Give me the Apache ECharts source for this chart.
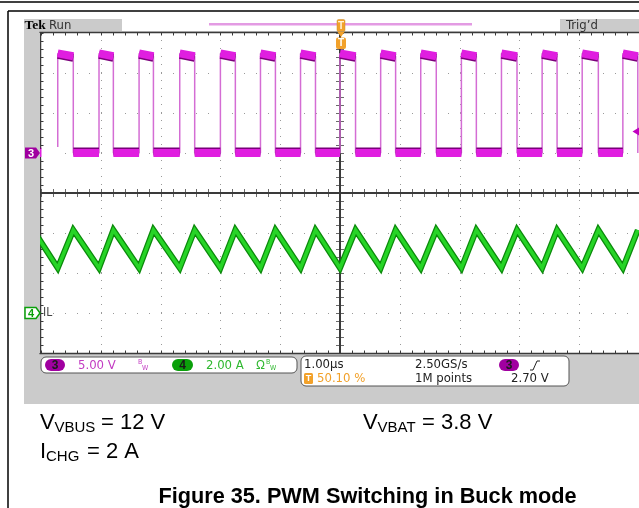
<!DOCTYPE html>
<html>
<head>
<meta charset="utf-8">
<script src="https://cdn.jsdelivr.net/npm/echarts@6/dist/echarts.min.js"></script>
<style>
  html, body { margin: 0; padding: 0; background: #ffffff; }
  #c { width: 639px; height: 508px; }
</style>
</head>
<body>
<div id="c"></div>
<script>
// ---- Captured waveforms (time in microseconds, trigger at 0) ----
// CH3 "SW" switching node: rising and falling edge times.
// swFallUs[i] precedes swRiseUs[i]; swFallUs[i + 1] follows it.
const swRiseUs = [-4.72, -4.03, -3.36, -2.68, -2.00, -1.33, -0.66, 0.00, 0.68, 1.35, 2.03, 2.70, 3.38, 4.05, 4.73];
const swFallUs = [-5.13, -4.46, -3.79, -3.12, -2.43, -1.75, -1.08, -0.41, 0.26, 0.93, 1.61, 2.28, 2.96, 3.63, 4.32, 4.98];
// SW plateau levels in volts (high level droops slightly during on-time)
const swHighStartV = [12.45];
const swHighEndV = [12.1];
const swLowV = [0.0];

// CH4 "IL" inductor current: valley at each SW rise, peak at each SW fall (amps)
const ilValleyA = [2.25, 2.25, 2.25, 2.25, 2.25, 2.25, 2.25, 2.25, 2.25, 2.25, 2.25, 2.25, 2.25, 2.25, 2.25];
const ilPeakA = [4.15, 4.15, 4.15, 4.15, 4.15, 4.15, 4.15, 4.15, 4.15, 4.15, 4.15, 4.15, 4.15, 4.15, 4.15, 4.15];

// Scope settings
const timeRangeUs = [-5, 5];        // 1.00 µs/div, 10 divisions
const ch3RangeV = [-25, 15];        // 5.00 V/div, ground 4 div below top
const ch4RangeA = [-2, 14];         // 2.00 A/div, zero 1 div above bottom
const trigLevelV = [2.70];

// Status readouts
const ch3Scale = '5.00 V';
const ch4Scale = '2.00 A';
const timeScale = '1.00\u00b5s';
const sampleRate = '2.50GS/s';
const trigPos = '50.10 %';
const recordLen = '1M points';
const trigLevelText = '2.70 V';

// ---- Build traces from the edge tables ----
const hs = swHighStartV[0], he = swHighEndV[0], lo = swLowV[0];
const swTrace = [[swFallUs[0], he], [swFallUs[0], lo]];
const swHighBands = [];
const swLowBands = [];
for (let i = 0; i < swRiseUs.length; i++) {
  const r = swRiseUs[i], f = swFallUs[i + 1];
  swTrace.push([r, lo], [r, hs], [f, he], [f, lo]);
  swHighBands.push([r, hs], [f, he], ['-', '-']);
  swLowBands.push([swFallUs[i], lo], [r, lo], ['-', '-']);
}
const ilTrace = [[swFallUs[0], ilPeakA[0]]];
for (let i = 0; i < swRiseUs.length; i++) {
  ilTrace.push([swRiseUs[i], ilValleyA[i]], [swFallUs[i + 1], ilPeakA[i + 1]]);
}

// ---- Graticule drawn in division units ----
function renderGraticule(params, api) {
  const ch = [];
  const P = (x, y) => api.coord([x, y]);
  const dot = '#9a9a9a';
  const frame = '#3a3a3a';
  const tick = '#6a6a6a';
  const line = (x1, y1, x2, y2, stroke, w) => ch.push({
    type: 'line', shape: { x1, y1, x2, y2 }, style: { stroke, lineWidth: w }
  });
  // dotted division lines
  for (let xi = -4; xi <= 4; xi++) {
    if (xi === 0) continue;
    for (let k = 0; k <= 40; k++) {
      const c = P(xi, -4 + k * 0.2);
      ch.push({ type: 'rect', shape: { x: Math.round(c[0]), y: Math.round(c[1]) - 1, width: 1, height: 1 }, style: { fill: dot } });
    }
  }
  for (let yi = -3; yi <= 3; yi++) {
    if (yi === 0) continue;
    for (let k = 0; k <= 50; k++) {
      const c = P(-5 + k * 0.2, yi);
      ch.push({ type: 'rect', shape: { x: Math.round(c[0]), y: Math.round(c[1]), width: 1, height: 1 }, style: { fill: dot } });
    }
  }
  // center cross
  const o = P(0, 0), tl = P(-5, 4), br = P(5, -4);
  const cx = Math.round(o[0]), cy = Math.round(o[1]);
  for (let k = -25; k <= 25; k++) {
    if (k === 0) continue;
    const x = Math.round(P(k * 0.2, 0)[0]) + 0.5;
    line(x, cy - 4, x, cy + 4, tick, 1);
  }
  for (let k = -20; k <= 20; k++) {
    if (k === 0) continue;
    const y = Math.round(P(0, k * 0.2)[1]) + 0.5;
    line(cx - 4, y, cx + 4, y, tick, 1);
  }
  line(tl[0], cy, br[0], cy, frame, 2);
  line(cx, tl[1], cx, br[1], frame, 2);
  // frame with inward ticks
  const top = Math.round(tl[1]) - 0.5, bot = Math.round(br[1]) + 0.5, left = Math.round(tl[0]) - 0.5;
  for (let k = 0; k <= 50; k++) {
    const x = Math.round(P(-5 + k * 0.2, 0)[0]) + 0.5;
    line(x, top, x, top + 3, frame, 1);
    line(x, bot, x, bot - 3, frame, 1);
  }
  for (let k = 0; k <= 40; k++) {
    const y = Math.round(P(0, -4 + k * 0.2)[1]) + 0.5;
    line(left, y, left + 3, y, frame, 1);
  }
  line(left - 1, top, br[0] + 2, top, frame, 1.5);
  line(left - 1, bot, br[0] + 2, bot, frame, 1.5);
  line(left, top, left, bot, frame, 1.5);
  return { type: 'group', children: ch };
}

const NARROW = '"Liberation Sans Narrow", "DejaVu Sans Condensed", "Arial Narrow", sans-serif';
const SANS = '"Liberation Sans", Arial, sans-serif';
const ORANGE = '#f2a12a';
const MAGENTA = '#c23bc2';
const GREEN = '#2fb82f';

const chart = echarts.init(document.getElementById('c'), null, { renderer: 'canvas' });

function txt(x, y, text, size, fill, extra) {
  return {
    type: 'text', x, y, z: 50,
    style: Object.assign({ text, fontSize: size, fill, fontFamily: NARROW, verticalAlign: 'middle', align: 'left' }, extra || {})
  };
}
function pill(x, y, w, h, fill, label, labelFill) {
  return [
    { type: 'rect', z: 50, shape: { x, y, width: w, height: h, r: h / 2 }, style: { fill } },
    { type: 'text', z: 51, x: x + w / 2, y: y + h / 2 + 0.5, style: { text: label, fontSize: 12, fontWeight: 'bold', fill: labelFill, fontFamily: SANS, align: 'center', verticalAlign: 'middle' } }
  ];
}

const chrome = [
  // document frame
  { type: 'line', z: 50, shape: { x1: 0, y1: 2, x2: 639, y2: 2 }, style: { stroke: '#000', lineWidth: 1.5 } },
  { type: 'line', z: 50, shape: { x1: 8, y1: 11, x2: 639, y2: 11 }, style: { stroke: '#000', lineWidth: 1.5 } },
  { type: 'line', z: 50, shape: { x1: 8, y1: 11, x2: 8, y2: 508 }, style: { stroke: '#000', lineWidth: 1.5 } },
  // instrument background
  { type: 'rect', z: 0, z2: 0, shape: { x: 24, y: 19, width: 615, height: 385 }, style: { fill: '#cbcbcb' } },
  { type: 'rect', z: 0, z2: 1, shape: { x: 41, y: 33, width: 600, height: 320 }, style: { fill: '#ffffff' } },
  // left strip drawn over trace ends
  { type: 'rect', z: 40, shape: { x: 24, y: 33, width: 16, height: 320 }, style: { fill: '#cbcbcb' } },
  // header
  { type: 'rect', z: 0, z2: 1, shape: { x: 122, y: 19, width: 438, height: 12 }, style: { fill: '#ffffff' } },
  { type: 'rect', z: 50, shape: { x: 209, y: 23, width: 263, height: 2.5 }, style: { fill: '#e39be3' } },
  txt(24.5, 25.5, 'Tek', 13.5, '#000', { fontFamily: '"Liberation Serif", "DejaVu Serif", serif', fontWeight: 'bold' }),
  txt(49, 25.5, 'Run', 13, '#333'),
  txt(566, 25.5, 'Trig\u2019d', 13, '#333'),
  // trigger position markers
  { type: 'rect', z: 52, shape: { x: 337, y: 19.5, width: 8, height: 12, r: 1.5 }, style: { fill: ORANGE, stroke: '#c98a2a', lineWidth: 0.5 } },
  { type: 'text', z: 53, x: 341, y: 26, style: { text: 'T', fontSize: 10, fontWeight: 'bold', fill: '#fff3dc', fontFamily: SANS, align: 'center', verticalAlign: 'middle' } },
  { type: 'polygon', z: 52, shape: { points: [[337.5, 32], [344.5, 32], [341, 37]] }, style: { fill: ORANGE } },
  { type: 'rect', z: 52, shape: { x: 336, y: 37.5, width: 10, height: 11.5, r: 2 }, style: { fill: ORANGE } },
  { type: 'text', z: 53, x: 341, y: 43.5, style: { text: 'T', fontSize: 10, fontWeight: 'bold', fill: '#ffffff', fontFamily: SANS, align: 'center', verticalAlign: 'middle' } },
  // status box 1: vertical settings
  { type: 'rect', z: 49, shape: { x: 41, y: 357, width: 256, height: 16, r: 5 }, style: { fill: '#fff', stroke: '#555', lineWidth: 1 } },
  ...pill(45, 359, 20, 12, '#a000a0', '3', '#1a1a1a'),
  txt(78, 365.5, ch3Scale, 13, MAGENTA),
  txt(138, 362, 'B', 7, MAGENTA),
  txt(142, 368, 'W', 7, MAGENTA),
  ...pill(172, 359, 21, 12, '#0aa00a', '4', '#1a1a1a'),
  txt(206, 365.5, ch4Scale, 13, GREEN),
  txt(256, 365.5, '\u03a9', 12, GREEN, { fontFamily: SANS }),
  txt(266, 362, 'B', 7, GREEN),
  txt(270, 368, 'W', 7, GREEN),
  // status box 2: horizontal / trigger
  { type: 'rect', z: 49, shape: { x: 301, y: 356, width: 268, height: 30, r: 5 }, style: { fill: '#fff', stroke: '#555', lineWidth: 1 } },
  txt(304, 365, timeScale, 13, '#222'),
  txt(415, 365, sampleRate, 13, '#222'),
  ...pill(499, 359, 20, 12, '#a000a0', '3', '#1a1a1a'),
  { type: 'polyline', z: 50, shape: { points: [[530, 370], [533, 370], [537, 361], [540, 361]] }, style: { stroke: '#222', lineWidth: 1, fill: null } },
  { type: 'rect', z: 50, shape: { x: 304, y: 373, width: 9, height: 11, r: 1.5 }, style: { fill: ORANGE } },
  { type: 'text', z: 51, x: 308.5, y: 379, style: { text: 'T', fontSize: 9, fontWeight: 'bold', fill: '#fff', fontFamily: SANS, align: 'center', verticalAlign: 'middle' } },
  txt(317, 378.5, trigPos, 13, ORANGE),
  txt(415, 378.5, recordLen, 13, '#222'),
  txt(511, 378.5, trigLevelText, 13, '#222'),
  // test conditions and figure caption
  txt(40, 423, 'V', 22, '#000', { fontFamily: SANS }),
  txt(54.5, 428, 'VBUS', 15, '#000', { fontFamily: SANS }),
  txt(101, 423, '= 12 V', 22, '#000', { fontFamily: SANS }),
  txt(363, 423, 'V', 22, '#000', { fontFamily: SANS }),
  txt(377.5, 428, 'VBAT', 15, '#000', { fontFamily: SANS }),
  txt(422, 423, '= 3.8 V', 22, '#000', { fontFamily: SANS }),
  txt(40, 452, 'I', 22, '#000', { fontFamily: SANS }),
  txt(46, 457, 'CHG', 15, '#000', { fontFamily: SANS }),
  txt(87, 452, '= 2 A', 22, '#000', { fontFamily: SANS }),
  { type: 'text', z: 50, x: 367.5, y: 497, style: { text: 'Figure 35. PWM Switching in Buck mode', fontSize: 21.7, fontWeight: 'bold', fill: '#000', fontFamily: SANS, align: 'center', verticalAlign: 'middle' } }
];

chart.setOption({
  animation: false,
  backgroundColor: '#ffffff',
  grid: { left: 41, top: 33, width: 600, height: 320, show: false },
  xAxis: [{ type: 'value', min: timeRangeUs[0], max: timeRangeUs[1], interval: 1, show: false }],
  yAxis: [
    { type: 'value', min: ch3RangeV[0], max: ch3RangeV[1], interval: 5, show: false },
    { type: 'value', min: ch4RangeA[0], max: ch4RangeA[1], interval: 2, show: false },
    { type: 'value', min: -4, max: 4, interval: 1, show: false }
  ],
  graphic: { elements: chrome },
  series: [
    { type: 'custom', name: 'graticule', xAxisIndex: 0, yAxisIndex: 2, z: 1, silent: true, clip: false,
      data: [[0, 0]], renderItem: renderGraticule },
    { type: 'line', name: 'IL edge', xAxisIndex: 0, yAxisIndex: 1, z: 3, data: ilTrace, symbol: 'none', silent: true,
      lineStyle: { color: '#0b8a0b', width: 6, join: 'miter' } },
    { type: 'line', name: 'IL', xAxisIndex: 0, yAxisIndex: 1, z: 4, data: ilTrace, symbol: 'none', silent: true,
      lineStyle: { color: '#26d426', width: 3.5, join: 'miter' } },
    { type: 'line', name: 'SW', xAxisIndex: 0, yAxisIndex: 0, z: 5, data: swTrace, symbol: 'none', silent: true,
      lineStyle: { color: '#d46dd4', width: 1.5 } },
    { type: 'line', name: 'SW high', xAxisIndex: 0, yAxisIndex: 0, z: 6, data: swHighBands, symbol: 'none', silent: true,
      lineStyle: { color: '#e01ee0', width: 8, cap: 'butt', shadowColor: '#7a007a', shadowOffsetY: 1.5, shadowBlur: 0 } },
    { type: 'line', name: 'SW low', xAxisIndex: 0, yAxisIndex: 0, z: 6, data: swLowBands, symbol: 'none', silent: true,
      lineStyle: { color: '#e01ee0', width: 8, cap: 'butt', shadowColor: '#7a007a', shadowOffsetY: -1.5, shadowBlur: 0 } }
  ]
});

// Channel ground markers, labels and trigger level arrow placed on the scales
const y3 = chart.convertToPixel({ yAxisIndex: 0 }, 0);
const y4 = chart.convertToPixel({ yAxisIndex: 1 }, 0);
const yT = chart.convertToPixel({ yAxisIndex: 0 }, trigLevelV[0]);
const tag = (y) => [[25, y - 5.5], [36, y - 5.5], [40, y], [36, y + 5.5], [25, y + 5.5]];
chart.setOption({
  graphic: { elements: chrome.concat([
    { type: 'polygon', z: 60, shape: { points: tag(y3) }, style: { fill: '#a000a0' } },
    { type: 'text', z: 61, x: 31, y: y3 + 0.5, style: { text: '3', fontSize: 11, fontWeight: 'bold', fill: '#ffffff', fontFamily: SANS, align: 'center', verticalAlign: 'middle' } },
    { type: 'polygon', z: 60, shape: { points: tag(y4) }, style: { fill: '#ffffff', stroke: '#0aa00a', lineWidth: 1.5 } },
    { type: 'text', z: 61, x: 31, y: y4 + 0.5, style: { text: '4', fontSize: 11, fontWeight: 'bold', fill: '#0aa00a', fontFamily: SANS, align: 'center', verticalAlign: 'middle' } },
    { type: 'rect', z: 60, shape: { x: 41.5, y: y3 - 6, width: 19, height: 12 }, style: { fill: '#ffffff' } },
    txt(43, y3, 'SW', 12, '#444'),
    txt(43, y4, 'IL', 12, '#444'),
    { type: 'polygon', z: 60, shape: { points: [[632.5, yT], [639, yT - 4], [639, yT + 4]] }, style: { fill: '#c000c0' } }
  ]) }
});
</script>
</body>
</html>
